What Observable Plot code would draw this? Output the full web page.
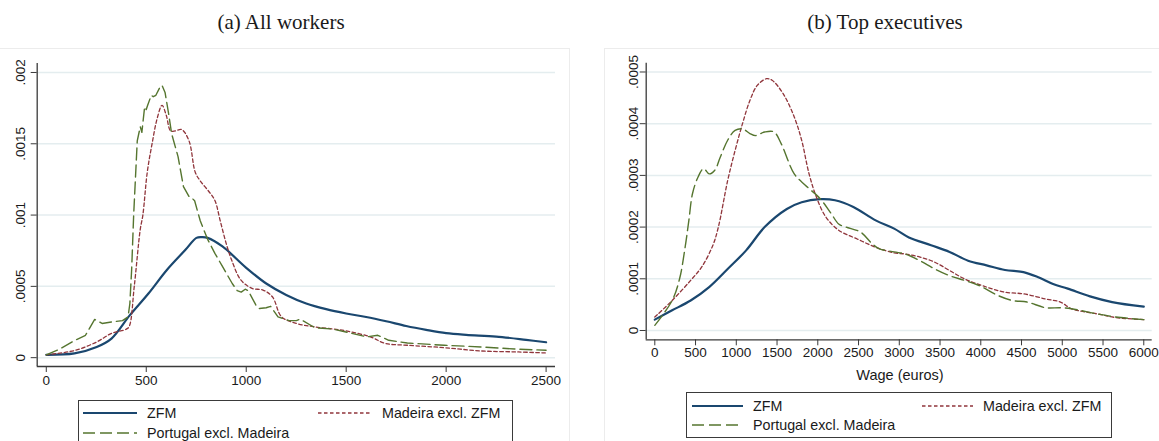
<!DOCTYPE html>
<html>
<head>
<meta charset="utf-8">
<script src="https://cdn.jsdelivr.net/npm/d3@7"></script>
<script src="https://cdn.jsdelivr.net/npm/@observablehq/plot@0.6"></script>
<style>
  html, body { margin: 0; padding: 0; background: #fff; }
  #root { position: relative; width: 1159px; height: 441px; overflow: hidden; background: #fff; font-family: "Liberation Sans", Arial, sans-serif; color: #1a1a1a; }
  .abs { position: absolute; }
  .title { font-family: "Liberation Serif", "Times New Roman", serif; font-size: 21px; white-space: nowrap; transform: translateX(-50%); }
  .region { position: absolute; border: 1px solid #ececec; }
  .legend { position: absolute; border: 1.3px solid #3a3a3a; box-sizing: border-box; background: #fff; }
  .lg-text { position: absolute; font-size: 14.3px; white-space: nowrap; line-height: 1; transform: translateY(-50%); }
  .lg-line { position: absolute; overflow: visible; }
  .xlabel { font-size: 14.5px; white-space: nowrap; transform: translate(-50%, -50%); }
</style>
</head>
<body>
<div id="root"></div>
<script>
// ---------- Data ----------
const seriesNames = ["ZFM", "Madeira excl. ZFM", "Portugal excl. Madeira"];

// Panel (a) All workers
const aXTicks = [0, 500, 1000, 1500, 2000, 2500];
const aYTicks = [0, 0.0005, 0.001, 0.0015, 0.002];
const aYTickLabels = ["0", ".0005", ".001", ".0015", ".002"];

const aZfmWage = [0, 141, 252, 326, 418, 511, 603, 696, 751, 780, 807, 881, 1000, 1100, 1200, 1300, 1400, 1500, 1600, 1700, 1800, 1900, 2000, 2100, 2250, 2400, 2500];
const aZfmDens = [0.00002, 0.00003, 0.000075, 0.000134, 0.000298, 0.00045, 0.000615, 0.000756, 0.00084, 0.000845, 0.00084, 0.00078, 0.00063, 0.00052, 0.00044, 0.00038, 0.00034, 0.00031, 0.000285, 0.000255, 0.000222, 0.000195, 0.000172, 0.00016, 0.000148, 0.000125, 0.000108];

const aMadWage = [0, 141, 252, 326, 400, 415, 440, 470, 483, 505, 529, 555, 579, 600, 622, 645, 677, 714, 745, 770, 816, 844, 870, 900, 927, 973, 1029, 1084, 1131, 1177, 1251, 1343, 1491, 1621, 1695, 1806, 1991, 2176, 2361, 2500];
const aMadDens = [0.00002, 0.00005, 0.00011, 0.00017, 0.0002, 0.00022, 0.0005, 0.0009, 0.001, 0.0013, 0.0015, 0.00168, 0.00177, 0.0017, 0.00159, 0.00159, 0.0016, 0.00152, 0.0013, 0.00124, 0.00116, 0.0011, 0.00096, 0.0008, 0.000685, 0.000545, 0.000486, 0.000474, 0.000427, 0.000286, 0.00024, 0.000216, 0.00019, 0.000146, 0.0001, 0.000087, 0.00007, 0.000047, 0.00004, 0.000033];

const aPorWage = [0, 67, 141, 196, 242, 279, 326, 381, 409, 418, 427, 437, 455, 470, 478, 492, 500, 507, 525, 535, 548, 566, 579, 594, 612, 627, 659, 686, 714, 728, 742, 770, 807, 844, 881, 930, 955, 975, 995, 1010, 1048, 1066, 1100, 1122, 1159, 1214, 1251, 1270, 1343, 1436, 1528, 1602, 1658, 1713, 1806, 1991, 2176, 2361, 2500];
const aPorDens = [0.00002, 0.00006, 0.00012, 0.000157, 0.000268, 0.00024, 0.00025, 0.00026, 0.000286, 0.00038, 0.00062, 0.001, 0.00152, 0.00162, 0.00158, 0.00176, 0.00174, 0.00177, 0.00184, 0.00183, 0.00184, 0.00189, 0.00191, 0.00186, 0.00171, 0.00157, 0.00141, 0.0012, 0.00113, 0.00112, 0.0011, 0.00096, 0.00083, 0.00073, 0.00064, 0.00052, 0.00047, 0.00046, 0.00048, 0.00047, 0.00037, 0.000345, 0.00035, 0.00036, 0.000286, 0.00026, 0.00026, 0.00027, 0.00021, 0.0002, 0.00017, 0.000146, 0.000157, 0.000122, 0.000103, 0.000087, 0.000075, 0.000059, 0.000052];

// Panel (b) Top executives
const bXTicks = [0, 500, 1000, 1500, 2000, 2500, 3000, 3500, 4000, 4500, 5000, 5500, 6000];
const bYTicks = [0, 0.0001, 0.0002, 0.0003, 0.0004, 0.0005];
const bYTickLabels = ["0", ".0001", ".0002", ".0003", ".0004", ".0005"];

const bZfmWage = [0, 213, 440, 667, 894, 1121, 1348, 1620, 1802, 2029, 2211, 2437, 2710, 2937, 3118, 3390, 3617, 3844, 4071, 4297, 4524, 4706, 4887, 5068, 5340, 5612, 6000];
const bZfmDens = [0.000021, 0.000039, 0.000058, 0.000084, 0.000119, 0.000155, 0.0002, 0.000235, 0.000248, 0.000254, 0.000252, 0.000239, 0.000213, 0.000197, 0.00018, 0.000165, 0.000152, 0.000135, 0.000126, 0.000117, 0.000113, 0.000103, 0.00009, 0.000081, 0.000066, 0.000055, 0.000046];

const bMadWage = [0, 213, 440, 576, 713, 780, 894, 985, 1076, 1167, 1257, 1371, 1439, 1575, 1711, 1802, 1893, 1983, 2097, 2256, 2483, 2710, 2937, 3073, 3254, 3436, 3617, 3798, 4071, 4297, 4524, 4796, 4978, 5114, 5431, 5659, 6000];
const bMadDens = [0.000026, 0.000058, 0.000097, 0.000123, 0.000165, 0.0002, 0.00029, 0.000348, 0.0004, 0.000445, 0.000474, 0.000487, 0.000484, 0.000458, 0.000413, 0.000368, 0.000303, 0.000258, 0.00022, 0.000194, 0.000177, 0.000161, 0.00015, 0.000148, 0.000142, 0.000132, 0.000116, 0.0001, 0.000084, 0.000074, 0.000071, 0.000061, 0.000055, 0.000042, 0.000032, 0.000025, 0.000021];

const bPorWage = [0, 213, 304, 372, 418, 463, 531, 599, 667, 736, 803, 894, 985, 1076, 1167, 1235, 1348, 1462, 1552, 1711, 1847, 2029, 2165, 2256, 2347, 2528, 2665, 2755, 2937, 3073, 3254, 3436, 3617, 3798, 3979, 4206, 4388, 4569, 4796, 4978, 5114, 5431, 5659, 6000];
const bPorDens = [0.00001, 0.000058, 0.0001, 0.000161, 0.000213, 0.000265, 0.000297, 0.000313, 0.000303, 0.00031, 0.000335, 0.000368, 0.000387, 0.00039, 0.000381, 0.000377, 0.000384, 0.000384, 0.000361, 0.000303, 0.000281, 0.000255, 0.000226, 0.000206, 0.0002, 0.00019, 0.000168, 0.000158, 0.000152, 0.000148, 0.000135, 0.000119, 0.000106, 0.000097, 0.000087, 0.000068, 0.000058, 0.000055, 0.000044, 0.000044, 0.000042, 0.000032, 0.000026, 0.000021];

// ---------- Styles ----------
const navy = "#1a476f", maroon = "#90353b", green = "#55752f";
const gridColor = "#e4edef", axisColor = "#3a3a3a";
const styleZfm = {stroke: navy, strokeWidth: 2.2};
const styleMad = {stroke: maroon, strokeWidth: 1.3, strokeDasharray: "3.5,2.5"};
const stylePor = {stroke: green, strokeWidth: 1.4, strokeDasharray: "12,5"};

const zip = (xs, ys) => xs.map((x, i) => ({x, y: ys[i]}));

function panel(cfg) {
  return Plot.plot({
    width: cfg.width, height: cfg.height,
    marginLeft: cfg.ml, marginRight: cfg.mr, marginTop: cfg.mt, marginBottom: cfg.mb,
    style: {fontFamily: "'Liberation Sans', Arial, sans-serif", fontSize: "13.5px", color: "#1a1a1a", background: "transparent", overflow: "visible"},
    x: {domain: cfg.xDomain},
    y: {domain: cfg.yDomain},
    marks: [
      Plot.gridY(cfg.yTicks, {stroke: gridColor, strokeOpacity: 1, strokeWidth: 1.5}),
      Plot.line(zip(cfg.zfm[0], cfg.zfm[1]), {x: "x", y: "y", curve: "catmull-rom", ...styleZfm}),
      Plot.line(zip(cfg.mad[0], cfg.mad[1]), {x: "x", y: "y", curve: "catmull-rom", ...styleMad}),
      Plot.line(zip(cfg.por[0], cfg.por[1]), {x: "x", y: "y", curve: cfg.porCurve, ...stylePor}),
      Plot.ruleX([cfg.xDomain[0]], {stroke: axisColor, strokeWidth: 1.3}),
      Plot.ruleY([cfg.yDomain[0]], {stroke: axisColor, strokeWidth: 1.3}),
      Plot.axisY(cfg.yTicks, {anchor: "left", tickSize: 6, tickFormat: () => "", label: null, stroke: axisColor}),
      Plot.text(cfg.yTicks, {y: d => d, text: (d, i) => cfg.yLabels[i], frameAnchor: "left", dx: cfg.ylabDx, rotate: -90, textAnchor: "middle", lineAnchor: "middle", fontSize: 13.5, fill: "#1a1a1a"}),
      Plot.axisX(cfg.xTicks, {anchor: "bottom", tickSize: 6, tickPadding: cfg.tickPad, tickFormat: d => String(d), label: null, stroke: axisColor, fontSize: 13.5, fill: "#1a1a1a"})
    ]
  });
}

const root = document.getElementById("root");

function addDiv(cls, css, text) {
  const d = document.createElement("div");
  d.className = cls;
  Object.assign(d.style, css);
  if (text != null) d.textContent = text;
  root.appendChild(d);
  return d;
}

// graph region outlines
addDiv("region", {left: "-2px", top: "48px", width: "570px", height: "420px"});
addDiv("region", {left: "604px", top: "48px", width: "580px", height: "420px"});

// titles
addDiv("abs title", {left: "281px", top: "10px"}, "(a) All workers");
addDiv("abs title", {left: "885px", top: "10px"}, "(b) Top executives");

// panel a
const pa = panel({
  width: 570, height: 360, ml: 36.7, mr: 15, mt: 23, mb: 34,
  xDomain: [-45.5, 2547], yDomain: [-0.000062, 0.002063],
  xTicks: aXTicks, yTicks: aYTicks, yLabels: aYTickLabels, ylabDx: -16.7, tickPad: 3,
  zfm: [aZfmWage, aZfmDens], mad: [aMadWage, aMadDens], por: [aPorWage, aPorDens], porCurve: "linear"
});
const wa = document.createElement("div");
wa.className = "abs"; wa.style.left = "0px"; wa.style.top = "40px";
wa.appendChild(pa); root.appendChild(wa);

// panel b
const pb = panel({
  width: 579, height: 340, ml: 65.7, mr: 7.3, mt: 22.7, mb: 40.7,
  xDomain: [-105.5, 6103.4], yDomain: [-0.000018, 0.000517],
  xTicks: bXTicks, yTicks: bYTicks, yLabels: bYTickLabels, ylabDx: -13, tickPad: 1.5,
  zfm: [bZfmWage, bZfmDens], mad: [bMadWage, bMadDens], por: [bPorWage, bPorDens], porCurve: "catmull-rom"
});
const wb = document.createElement("div");
wb.className = "abs"; wb.style.left = "580px"; wb.style.top = "40px";
wb.appendChild(pb); root.appendChild(wb);

// x axis title (panel b)
addDiv("abs xlabel", {left: "900px", top: "375px"}, "Wage (euros)");

// legends
const legendStyles = [styleZfm, styleMad, stylePor];
function legend(box, entries) {
  const lg = addDiv("legend", {left: box.left + "px", top: box.top + "px", width: box.w + "px", height: box.h + "px"});
  entries.forEach(e => {
    const st = legendStyles[e.idx];
    const svg = document.createElementNS("http://www.w3.org/2000/svg", "svg");
    svg.setAttribute("class", "lg-line");
    svg.setAttribute("width", e.len);
    svg.setAttribute("height", 6);
    svg.style.left = e.sx + "px";
    svg.style.top = (e.y - 3) + "px";
    const ln = document.createElementNS("http://www.w3.org/2000/svg", "line");
    ln.setAttribute("x1", 0); ln.setAttribute("x2", e.len);
    ln.setAttribute("y1", 3); ln.setAttribute("y2", 3);
    ln.setAttribute("stroke", st.stroke);
    ln.setAttribute("stroke-width", st.strokeWidth);
    if (st.strokeDasharray) ln.setAttribute("stroke-dasharray", st.strokeDasharray);
    svg.appendChild(ln);
    lg.appendChild(svg);
    const t = document.createElement("div");
    t.className = "lg-text";
    t.style.left = e.tx + "px";
    t.style.top = e.y + "px";
    t.textContent = seriesNames[e.idx];
    lg.appendChild(t);
  });
}
legend({left: 77.7, top: 400, w: 435.6, h: 46}, [
  {idx: 0, sx: 4.3, len: 54, tx: 68.3, y: 12},
  {idx: 1, sx: 239.3, len: 54, tx: 303.3, y: 12},
  {idx: 2, sx: 4.3, len: 54, tx: 68.3, y: 32}
]);
legend({left: 685.7, top: 392, w: 426.6, h: 45.7}, [
  {idx: 0, sx: 5, len: 51, tx: 66.3, y: 13},
  {idx: 1, sx: 235, len: 51, tx: 296.3, y: 13},
  {idx: 2, sx: 5, len: 51, tx: 66.3, y: 32.3}
]);
</script>
</body>
</html>
